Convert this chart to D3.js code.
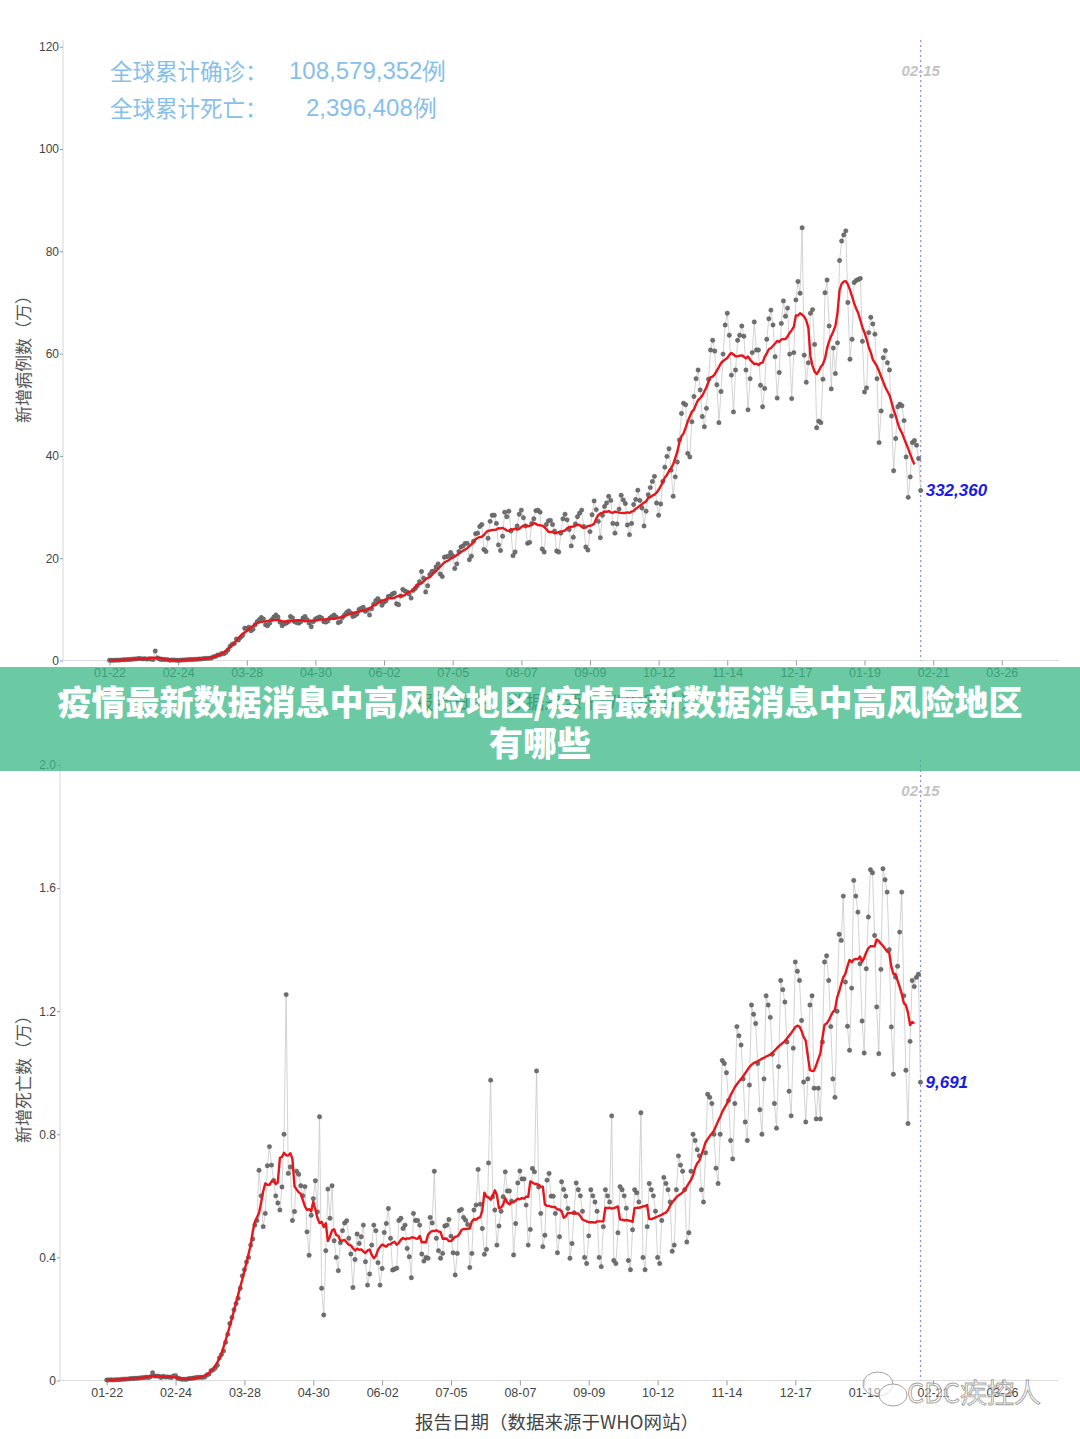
<!DOCTYPE html>
<html><head><meta charset="utf-8">
<script src="https://cdn.jsdelivr.net/npm/d3@7"></script>
<style>body{margin:0;background:#fff;}svg{display:block;}</style>
</head><body>
<svg id="c" width="1080" height="1439"></svg>
<script>
// ---------------- DATA ----------------
const startDate = "2020-01-22";
const tickDates = ["2020-01-22","2020-02-24","2020-03-28","2020-04-30","2020-06-02","2020-07-05","2020-08-07","2020-09-09","2020-10-12","2020-11-14","2020-12-17","2021-01-19","2021-02-21","2021-03-26"];
const casesTicks = [0,20,40,60,80,100,120];
const deathsTicks = [0,0.4,0.8,1.2,1.6,2.0];
const markDate = "2021-02-15";
const markLabel = "02-15";
const lastCasesLabel = "332,360";
const lastDeathsLabel = "9,691";
const cumLabels = ["全球累计确诊：","全球累计死亡："];
const cumValues = ["108,579,352例","2,396,408例"];
const titleLines = ["疫情最新数据消息中高风险地区/疫情最新数据消息中高风险地区","有哪些"];
const yTitles = ["新增病例数（万）","新增死亡数（万）"];
const xTitle = "报告日期（数据来源于WHO网站）";

// daily new cases (万), 2020-01-22 .. 2021-02-15
const newCases = [
 0.06,0.04,0.03,0.07,0.07,0.08,0.13,0.15,0.17,0.20,
 0.21,0.26,0.29,0.32,0.39,0.37,0.31,0.37,0.27,0.31,0.27,0.20,1.85,0.52,0.27,0.21,0.21,0.19,0.18,0.06,0.09,0.10,0.04,0.05,0.05,0.09,0.11,0.15,0.18,
 0.20,0.20,0.22,0.23,0.28,0.30,0.37,0.40,0.42,0.45,0.50,0.73,0.80,1.07,1.10,1.40,1.30,1.60,2.10,2.80,3.20,3.30,4.20,4.00,4.50,4.90,6.30,6.20,6.50,5.80,6.10,
 7.0,7.6,8.0,8.4,8.1,7.0,6.8,7.3,8.0,8.5,8.9,8.5,7.5,6.8,7.2,7.3,7.6,8.6,8.3,7.6,7.4,7.3,7.6,8.3,8.6,8.0,7.3,6.6,7.6,8.1,
 8.3,8.5,8.3,7.6,7.5,7.7,8.3,8.6,8.9,8.5,7.4,7.6,8.4,8.9,9.4,9.7,9.3,8.6,8.8,9.1,10.0,10.2,10.4,9.6,9.9,8.9,10.1,11.0,11.7,12.1,11.6,
 10.8,11.4,11.7,12.5,12.6,13.0,13.2,11.1,10.9,12.6,13.9,13.6,13.4,13.0,12.2,13.7,14.1,14.6,15.4,17.4,16.1,13.4,14.6,16.8,17.4,17.5,18.3,18.9,16.9,16.4,
 20.2,20.3,20.4,21.1,20.5,18.0,18.9,21.3,22.2,22.4,22.9,22.9,19.7,20.4,23.3,24.8,24.9,26.2,26.6,21.7,21.3,23.9,27.2,28.4,28.4,26.8,22.6,21.5,24.3,29.0,28.1,
 29.2,25.3,20.5,21.2,26.3,28.6,29.4,27.9,26.3,22.9,23.1,26.8,27.7,29.3,29.4,29.0,21.8,21.2,26.6,27.3,27.4,26.6,25.3,21.4,21.2,24.9,27.7,28.6,27.5,25.6,22.4,
 24.1,26.7,28.1,28.8,29.4,26.2,22.2,21.6,25.2,28.5,31.2,29.5,27.2,24.0,28.4,30.1,30.8,32.1,31.3,26.8,24.9,26.7,29.6,32.3,31.4,30.7,26.5,24.6,26.8,30.5,
 31.5,33.3,31.3,29.8,26.3,29.2,32.4,33.8,35.0,36.0,30.8,28.4,30.6,35.0,37.8,39.9,41.4,37.2,32.1,35.9,38.8,43.1,48.3,50.3,50.0,40.5,39.8,46.7,51.6,55.1,56.8,
 52.9,47.7,45.7,49.3,55.0,60.7,62.6,60.5,53.9,46.5,52.6,59.9,65.6,67.9,63.6,55.8,48.6,56.8,62.6,63.6,65.4,63.4,56.8,49.0,55.1,60.2,66.2,60.7,60.7,53.8,
 49.6,53.2,62.8,66.8,68.5,65.6,59.4,51.3,56.3,65.9,70.3,67.3,68.9,59.9,51.2,60.2,70.5,74.1,71.8,84.6,59.7,54.4,58.2,67.9,68.6,61.8,45.5,46.8,46.5,55.0,71.9,
 74.4,65.4,53.1,61.1,56.1,62.1,78.2,82.0,83.2,84.0,70.0,58.9,62.8,73.9,74.3,74.5,74.7,62.4,52.5,53.3,64.1,67.1,65.8,63.8,55.1,42.6,48.8,59.2,60.6,58.2,56.8,
 47.8,37.1,43.4,49.6,50.1,49.8,46.9,39.8,31.9,35.9,42.6,43.0,42.1,39.5,33.236
];

// daily new deaths (万), 2020-01-22 .. 2021-02-15
const newDeaths = [
 0.0017,0.0018,0.0026,0.0015,0.0024,0.0026,0.0026,0.0038,0.0043,0.0046,
 0.0045,0.0058,0.0064,0.0065,0.0073,0.0073,0.0086,0.0089,0.0097,0.0108,0.0097,0.0121,0.0254,0.0143,0.0143,0.0142,0.0098,0.0136,0.0114,0.0118,0.0109,0.0098,0.0150,0.0160,0.0071,0.0057,0.0038,0.0044,0.0035,
 0.0058,0.0067,0.0072,0.0083,0.0098,0.0101,0.0105,0.0104,0.0114,0.0181,0.0207,0.0316,0.0348,0.0405,0.0494,0.0734,0.0842,0.0962,0.124,0.150,0.185,0.205,0.230,0.250,0.267,0.300,0.340,0.360,0.385,0.400,0.440,
 0.46,0.505,0.52,0.683,0.60,0.50,0.543,0.698,0.76,0.70,0.65,0.60,0.577,0.554,0.629,0.80,1.254,0.673,0.694,0.52,0.549,0.68,0.67,0.633,0.60,0.63,0.483,0.407,0.537,0.591,
 0.649,0.548,0.857,0.30,0.213,0.422,0.622,0.527,0.633,0.454,0.40,0.357,0.448,0.487,0.512,0.519,0.462,0.411,0.302,0.393,0.476,0.445,0.467,0.505,0.386,0.31,0.346,0.44,0.505,0.487,0.383,
 0.31,0.364,0.481,0.51,0.559,0.462,0.359,0.362,0.365,0.52,0.527,0.494,0.505,0.429,0.402,0.334,0.543,0.52,0.52,0.505,0.411,0.388,0.40,0.397,0.53,0.512,0.68,0.462,0.422,0.397,
 0.413,0.502,0.505,0.523,0.469,0.415,0.343,0.413,0.552,0.556,0.53,0.521,0.507,0.367,0.413,0.554,0.57,0.686,0.573,0.494,0.41,0.426,0.707,0.976,0.597,0.554,0.44,0.502,0.55,0.597,0.678,
 0.616,0.616,0.583,0.408,0.51,0.642,0.681,0.655,0.655,0.57,0.44,0.491,0.689,0.678,1.006,0.629,0.543,0.435,0.472,0.651,0.673,0.599,0.599,0.543,0.415,0.467,0.646,0.621,0.599,0.559,0.397,
 0.445,0.545,0.642,0.62,0.60,0.55,0.40,0.38,0.47,0.62,0.60,0.58,0.55,0.40,0.37,0.50,0.62,0.60,0.58,0.86,0.39,0.38,0.48,0.63,0.62,0.60,0.56,0.39,0.36,0.49,
 0.62,0.61,0.58,0.87,0.40,0.36,0.50,0.64,0.62,0.60,0.55,0.40,0.38,0.52,0.66,0.64,0.62,0.58,0.42,0.44,0.62,0.73,0.70,0.68,0.62,0.45,0.48,0.68,0.80,0.78,0.75,
 0.73,0.62,0.58,0.74,0.93,0.92,0.90,0.80,0.69,0.64,0.80,1.04,1.03,1.00,0.91,0.78,0.72,0.90,1.15,1.12,1.09,0.98,0.84,0.78,0.96,1.22,1.19,1.16,1.03,0.88,
 0.80,0.98,1.25,1.22,1.18,1.06,0.90,0.82,1.02,1.30,1.27,1.23,1.10,0.94,0.86,1.08,1.36,1.33,1.30,1.17,0.97,0.84,0.98,1.22,1.25,0.95,0.85,0.95,0.85,1.10,1.36,
 1.38,1.30,1.15,0.98,0.92,1.20,1.45,1.43,1.574,1.295,1.151,1.073,1.275,1.625,1.574,1.522,1.354,1.168,1.064,1.338,1.506,1.66,1.65,1.446,1.214,1.062,1.336,1.663,1.627,1.587,1.40,
 1.149,0.995,1.311,1.346,1.457,1.587,1.25,1.008,0.835,1.102,1.30,1.28,1.31,1.32,0.9691
];

// ---------------- DRAW ----------------
const svg = d3.select("#c");
const parse = d3.utcParse("%Y-%m-%d");
const fmt = d3.utcFormat("%m-%d");
const t0 = parse(startDate);
const ticks = tickDates.map(parse);
const SANS = "'Liberation Sans', Arial, sans-serif";
const CJK = "'Noto Sans CJK SC', sans-serif";

function movingAvg(arr){
  const out=[];
  for(let i=0;i<=arr.length-4;i++){
    const s=arr.slice(Math.max(0,i-3), i+4);
    out.push(d3.mean(s));
  }
  return out;
}

function panel(cfg){
  const g = svg.append("g");
  const x = d3.scaleUtc().domain([ticks[0], ticks[ticks.length-1]]).range(cfg.xr);
  const y = d3.scaleLinear().domain([0, cfg.ymax]).range(cfg.yr);
  const data = cfg.values.map((v,i)=>({d:d3.utcDay.offset(t0,i), v}));
  const ma = movingAvg(cfg.values).map((v,i)=>({d:d3.utcDay.offset(t0,i), v}));

  g.append("line").attr("x1",cfg.axX).attr("x2",cfg.axX).attr("y1",cfg.yTop).attr("y2",cfg.yr[0])
    .attr("stroke","#dcdcdc").attr("stroke-width",1.2);
  g.append("line").attr("x1",cfg.axX).attr("x2",cfg.xEnd).attr("y1",cfg.yr[0]).attr("y2",cfg.yr[0])
    .attr("stroke","#dcdcdc").attr("stroke-width",1.2);

  const xa = g.append("g").attr("transform",`translate(0,${cfg.yr[0]})`)
    .call(d3.axisBottom(x).tickValues(ticks).tickFormat(fmt).tickSize(5).tickPadding(3));
  xa.select(".domain").remove();
  xa.selectAll("line").attr("stroke","#999");
  xa.selectAll("text").attr("fill","#444").style("font-family",SANS).style("font-size","12.5px");

  const ya = g.append("g").attr("transform",`translate(${cfg.axX},0)`)
    .call(d3.axisLeft(y).tickValues(cfg.yticks).tickFormat(cfg.yfmt).tickSize(3).tickPadding(1));
  ya.select(".domain").remove();
  ya.selectAll("line").attr("stroke","#999");
  ya.selectAll("text").attr("fill","#444").style("font-family",SANS).style("font-size","12px");

  g.append("text").attr("transform",`translate(${cfg.ytx},${cfg.yty}) rotate(-90)`)
    .attr("text-anchor","middle").attr("dominant-baseline","central")
    .style("font-family",CJK).style("font-size","17px").attr("fill","#555").text(cfg.ytitle);
  g.append("text").attr("x",557).attr("y",cfg.yr[0]+40).attr("text-anchor","middle").attr("dominant-baseline","central")
    .style("font-family",CJK).style("font-size","18.5px").attr("fill","#444").text(xTitle);

  const xm = x(parse(markDate));
  g.append("line").attr("x1",xm).attr("x2",xm).attr("y1",cfg.yTop).attr("y2",cfg.yr[0])
    .attr("stroke","#8a8af0").attr("stroke-width",1.2).attr("stroke-dasharray","2,3");
  g.append("text").attr("x",xm).attr("y",cfg.markY).attr("text-anchor","middle").attr("dominant-baseline","central")
    .style("font-family",SANS).style("font-size","15px").style("font-style","italic").style("font-weight","bold")
    .attr("fill","#c4c4c4").text(markLabel);

  g.append("path").datum(data).attr("fill","none").attr("stroke","#c8c8c8").attr("stroke-width",0.8)
    .attr("d", d3.line().x(d=>x(d.d)).y(d=>y(d.v)));
  g.append("g").selectAll("circle").data(data).join("circle")
    .attr("cx",d=>x(d.d)).attr("cy",d=>y(d.v)).attr("r",2.2)
    .attr("fill","#707070").attr("stroke","#4a4a4a").attr("stroke-width",0.4);
  g.append("path").datum(ma).attr("fill","none").attr("stroke","#e8161b").attr("stroke-width",2.4)
    .attr("stroke-linejoin","round").attr("d", d3.line().x(d=>x(d.d)).y(d=>y(d.v)));

  const last = data[data.length-1];
  g.append("text").attr("x",x(last.d)+5).attr("y",y(last.v)).attr("dominant-baseline","central")
    .style("font-family",SANS).style("font-size","17px").style("font-style","italic").style("font-weight","bold")
    .attr("fill","#1a1ae6").text(cfg.lastLabel);
}

panel({values:newCases, ymax:120, yticks:casesTicks, yfmt:d3.format("d"),
  xr:[109.5,1001.8], yr:[660.5,46.7], axX:63, xEnd:1059, yTop:40,
  ytx:22, yty:355, ytitle:yTitles[0], markY:70, lastLabel:lastCasesLabel});
panel({values:newDeaths, ymax:2.0, yticks:deathsTicks, yfmt:d=>d===0?"0":d3.format(".1f")(d),
  xr:[106.7,1001.9], yr:[1380.5,765], axX:60, xEnd:1058, yTop:760,
  ytx:22, yty:1075, ytitle:yTitles[1], markY:790, lastLabel:lastDeathsLabel});

const ann = svg.append("g").attr("fill","#86c0ea");
[70,107].forEach((yy,i)=>{
  ann.append("text").attr("x",110).attr("y",yy).attr("dominant-baseline","central")
    .style("font-family",CJK).style("font-size","22.5px").text(cumLabels[i]);
  ann.append("text").attr("x",i===0?289:306).attr("y",yy).attr("dominant-baseline","central")
    .style("font-family",SANS).style("font-size","24px").text(cumValues[i]);
});

svg.append("rect").attr("x",0).attr("y",667).attr("width",1080).attr("height",104)
  .attr("fill","rgb(60,185,135)").attr("fill-opacity",0.76);
svg.append("text").attr("x",540).attr("y",700).attr("text-anchor","middle").attr("dominant-baseline","central")
  .style("font-family",CJK).style("font-size","34px").style("font-weight","900").attr("fill","#fff").text(titleLines[0]);
svg.append("text").attr("x",540).attr("y",741).attr("text-anchor","middle").attr("dominant-baseline","central")
  .style("font-family",CJK).style("font-size","34px").style("font-weight","900").attr("fill","#fff").text(titleLines[1]);

const wm = svg.append("g").attr("opacity",0.9);
wm.append("ellipse").attr("cx",878).attr("cy",1384).attr("rx",15).attr("ry",12).attr("fill","rgba(255,255,255,0.6)").attr("stroke","#999").attr("stroke-width",1);
wm.append("ellipse").attr("cx",893).attr("cy",1395).attr("rx",14).attr("ry",11).attr("fill","rgba(255,255,255,0.7)").attr("stroke","#999").attr("stroke-width",1);
wm.append("text").attr("x",907).attr("y",1391).attr("dominant-baseline","central")
  .style("font-family",CJK).style("font-size","27px").attr("fill","rgba(255,255,255,0.7)").attr("stroke","#9a9a9a").attr("stroke-width",0.9)
  .text("CDC疾控人");
</script>
</body></html>
